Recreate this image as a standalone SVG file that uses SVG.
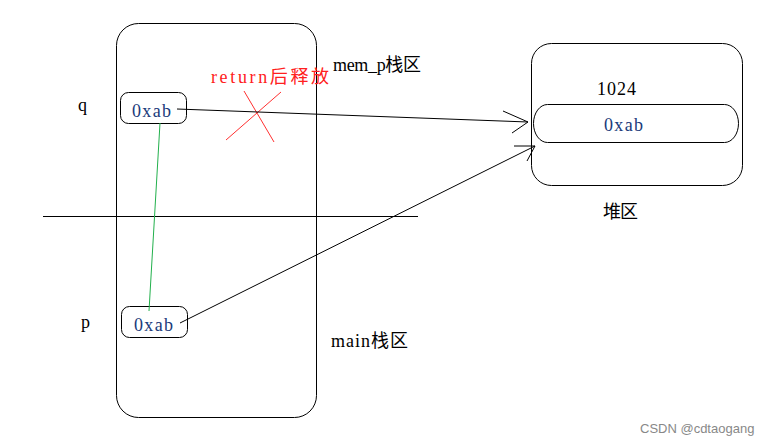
<svg xmlns="http://www.w3.org/2000/svg" width="779" height="446" viewBox="0 0 779 446">
<style>
.box{fill:none;stroke:#000;stroke-width:1}
.t{font-family:"Liberation Serif","Noto Sans CJK SC",serif;font-size:18px;fill:#000}
.v{fill:#1a3a7a}
.ln{fill:none;stroke:#000;stroke-width:1}
.red{stroke:#ff3030;stroke-width:1}
</style>
<rect width="779" height="446" fill="#fff"/>
<g id="main-stack">
<rect class="box" x="116.5" y="23.5" width="200" height="394" rx="22" ry="22"/>
<text class="t" x="333" y="71" textLength="88" lengthAdjust="spacing">mem_p栈区</text>
<text class="t" x="331" y="347" textLength="77" lengthAdjust="spacing">main栈区</text>
</g>
<g id="divider"><line class="ln" x1="43" y1="216.5" x2="418" y2="216.5"/></g>
<g id="q">
<text class="t" x="78" y="111">q</text>
<rect class="box" x="120.5" y="92.5" width="66" height="31" rx="8" ry="8"/>
<text class="t v" x="132" y="117" textLength="39" lengthAdjust="spacing">0xab</text>
</g>
<g id="p">
<text class="t" x="81" y="328">p</text>
<rect class="box" x="121.5" y="306.5" width="66" height="31" rx="8" ry="8"/>
<text class="t v" x="134" y="331" textLength="39" lengthAdjust="spacing">0xab</text>
</g>
<g id="heap">
<rect class="box" x="531.5" y="43.5" width="211" height="142" rx="20" ry="20"/>
<text class="t" x="597" y="95" textLength="39" lengthAdjust="spacing">1024</text>
<rect class="box" x="533.5" y="104.5" width="205" height="38" rx="14" ry="19"/>
<text class="t v" x="604" y="131" textLength="39" lengthAdjust="spacing">0xab</text>
<text class="t" x="603" y="218" textLength="35" lengthAdjust="spacing">堆区</text>
</g>
<g id="release-note">
<text class="t" x="211" y="83" textLength="118" lengthAdjust="spacing" style="fill:#ff2020">return后释放</text>
<line class="red" x1="244" y1="91" x2="274" y2="142"/>
<line class="red" x1="226" y1="140" x2="281" y2="92"/>
</g>
<g id="connectors">
<line x1="160" y1="123" x2="149" y2="311" stroke="#22b04c" stroke-width="1"/>
<polyline class="ln" points="177,109 258,112 528,122"/>
<polyline class="ln" points="503,111 528,122 512,133"/>
<line class="ln" x1="180" y1="323" x2="535" y2="146"/>
<polyline class="ln" points="514,146 535,146 527,161"/>
</g>
<text x="640" y="433" style="font-family:'Liberation Sans',Arial,sans-serif;font-size:13px;fill:#888">CSDN @cdtaogang</text>
</svg>
